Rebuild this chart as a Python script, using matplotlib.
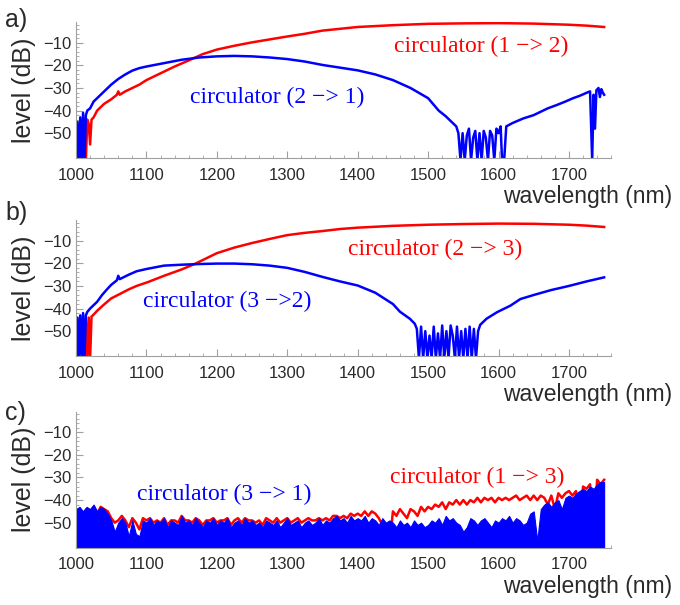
import matplotlib
matplotlib.use("Agg")
import matplotlib.pyplot as plt
from matplotlib.ticker import MultipleLocator

# ---- data (wavelength in nm, level in dB) ----
# panel a: circulator (1 -> 2) in red, (2 -> 1) in blue
wl_a_red = [1000, 1002, 1004, 1006, 1008, 1010, 1012, 1014, 1016, 1018, 1020, 1022,
            1025, 1030, 1035, 1040, 1050, 1058, 1060, 1062, 1070, 1080, 1090, 1100,
            1120, 1140, 1160, 1180, 1200, 1225, 1250, 1275, 1300, 1325, 1350, 1375,
            1400, 1450, 1500, 1550, 1600, 1650, 1700, 1725, 1750]
lvl_a_red = [-62, -46, -62, -62, -45, -62, -47, -62, -44, -46, -55, -44,
             -43, -40, -38.5, -37, -35, -33, -31.5, -33, -31.5, -30, -28.5, -26.5,
             -23.5, -20.5, -17.8, -15, -13, -11.3, -9.8, -8.5, -7.2, -6, -4.6, -3.8,
             -3, -2.2, -1.6, -1.4, -1.3, -1.5, -2, -2.4, -3]

wl_a_blue = [1000, 1002, 1004, 1006, 1008, 1010, 1012, 1014, 1016, 1020, 1025, 1030,
             1040, 1050, 1060, 1070, 1080, 1090, 1100, 1125, 1150, 1175, 1200, 1225,
             1250, 1275, 1300, 1325, 1350, 1375, 1400, 1425, 1450, 1475, 1500, 1515,
             1525, 1535, 1540, 1543, 1546, 1549, 1552, 1555, 1558, 1561, 1564, 1567,
             1570, 1573, 1576, 1579, 1582, 1585, 1588, 1591, 1594, 1597, 1600, 1603,
             1605, 1608, 1611, 1620, 1635, 1650, 1660, 1670, 1683, 1695, 1706, 1715,
             1726, 1730, 1733, 1735, 1737, 1739, 1742, 1744, 1746, 1748, 1750]
lvl_a_blue = [-62, -45, -62, -43, -62, -41, -62, -42, -40, -39, -36, -34.5,
              -31.5, -28.5, -26, -24, -22.3, -21.2, -20.5, -19, -17.5, -16.5, -16, -15.8,
              -16, -16.5, -17.2, -18.3, -19.8, -21, -22.2, -24, -26.5, -30, -34.5, -40,
              -42.5, -45.5, -47, -50, -62, -50, -62, -51, -48, -62, -52, -49,
              -62, -50, -62, -49, -52, -62, -49, -51, -62, -48, -50, -47,
              -62, -62, -47, -45.5, -43.5, -42, -40.5, -39, -37.5, -36, -34.5, -33.5,
              -32, -31.5, -62, -33, -48, -31, -30, -34, -30.5, -32, -33]

# panel b: circulator (2 -> 3) in red, (3 -> 2) in blue
wl_b_red = [1000, 1002, 1012, 1014, 1016, 1018, 1020, 1022, 1024, 1030, 1038, 1050,
            1062, 1075, 1086, 1102, 1125, 1150, 1169, 1200, 1225, 1250, 1275, 1300,
            1325, 1350, 1375, 1400, 1450, 1500, 1550, 1600, 1650, 1700, 1725, 1750]
lvl_b_red = [-45, -62, -62, -45, -62, -44, -62, -43.5, -43, -41, -38.7, -35.5,
             -33.6, -31.5, -30, -28.3, -25.5, -22.7, -20.2, -15.5, -13, -11, -9.2, -7.5,
             -6.5, -5.7, -4.8, -4.2, -3.4, -2.9, -2.6, -2.4, -2.5, -2.9, -3.3, -3.9]

wl_b_blue = [1000, 1002, 1004, 1006, 1008, 1010, 1012, 1014, 1016, 1020, 1025, 1030,
             1037, 1044, 1050, 1058, 1060, 1062, 1075, 1086, 1100, 1125, 1150, 1175,
             1200, 1225, 1250, 1275, 1300, 1325, 1350, 1375, 1400, 1425, 1450, 1460,
             1474, 1481, 1484, 1487, 1490, 1493, 1496, 1499, 1502, 1505, 1508, 1511,
             1514, 1517, 1520, 1523, 1526, 1529, 1532, 1535, 1538, 1541, 1544, 1547,
             1550, 1553, 1556, 1559, 1562, 1565, 1568, 1571, 1574, 1583, 1598, 1617,
             1631, 1650, 1675, 1700, 1725, 1750]
lvl_b_blue = [-62, -44, -62, -43, -62, -42, -62, -43, -41.5, -40, -38.5, -37,
              -34, -31.5, -29.5, -27.5, -25.5, -27, -25, -23.5, -22.5, -21, -20.6, -20.3,
              -20.1, -20.1, -20.4, -21, -22, -23.8, -26, -28, -29.8, -33, -38, -41.4,
              -44.5, -46.7, -49, -62, -48, -62, -50, -62, -52, -62, -48, -62,
              -51, -62, -47.5, -62, -50, -62, -47.5, -52, -62, -48, -62, -50,
              -62, -49, -62, -48, -62, -49, -62, -50, -47.2, -44.5, -41.6, -38.7,
              -35.8, -34, -31.8, -30, -28, -26.2]

# panel c: circulator (1 -> 3) in red, (3 -> 1) in blue, 5 nm steps
wl_c = list(range(1000, 1755, 5))
lvl_c_red = [-45, -44, -46, -44, -45, -43, -46, -43, -44, -45,
             -48, -50, -49, -47, -49, -52, -48, -50, -53, -48,
             -49, -48, -50, -49, -50, -48, -51, -49, -49, -50,
             -47, -49, -49, -50, -48, -49, -51, -49, -49, -48,
             -50, -49, -49, -48, -51, -49, -48, -50, -48, -49,
             -49, -50, -49, -51, -48, -49, -50, -48, -50, -49,
             -48, -50, -49, -48, -50, -49, -48, -49, -49, -48,
             -49, -48, -49, -47, -47, -48, -47, -48, -46, -47,
             -46, -47, -45, -47, -45, -46, -48, -51, -52, -61,
             -45, -47, -44, -46, -48, -44, -45, -47, -43, -45,
             -43, -44, -42, -43, -41, -44, -41, -42, -40, -42,
             -40, -42, -40, -41, -39, -41, -39, -40, -39, -41,
             -39, -40, -39, -40, -39, -38, -40, -39, -38, -40,
             -38, -40, -38, -39, -42, -38, -44, -37, -39, -37,
             -36, -38, -36, -61, -34, -35, -33, -61, -31, -33,
             -31]
lvl_c_blue = [-44, -43, -45, -43, -44, -42, -45, -43, -44, -46,
              -49, -54, -50, -48, -50, -56, -49, -55, -56, -49,
              -50, -48, -51, -49, -50, -48, -52, -49, -50, -51,
              -47, -50, -49, -51, -48, -50, -52, -49, -50, -48,
              -51, -49, -50, -48, -52, -50, -49, -51, -48, -50,
              -49, -51, -50, -52, -49, -50, -51, -49, -52, -50,
              -48, -51, -50, -49, -52, -50, -49, -51, -50, -48,
              -51, -49, -50, -48, -47, -49, -48, -50, -47, -49,
              -48, -49, -47, -50, -48, -49, -51, -48, -50, -49,
              -50, -52, -49, -51, -50, -52, -49, -51, -50, -52,
              -51, -49, -50, -48, -51, -47, -49, -48, -50, -51,
              -54, -52, -48, -49, -51, -49, -48, -50, -52, -49,
              -50, -48, -49, -47, -50, -48, -49, -51, -50, -46,
              -45, -58, -44, -42, -41, -43, -41, -40, -44, -39,
              -38, -39, -37, -36, -35, -36, -34, -35, -33, -32,
              -32]

panel_letters = ["a)", "b)", "c)"]
labels_red = ["circulator (1 \u2212> 2)", "circulator (2 \u2212> 3)", "circulator (1 \u2212> 3)"]
labels_blue = ["circulator (2 \u2212> 1)", "circulator (3 \u2212>2)", "circulator (3 \u2212> 1)"]

RED = "#ff0000"
BLUE = "#0000ff"
GREY = "#a0a0a0"
TXT = "#2a2a2a"

plt.rcParams["font.family"] = ["Liberation Sans", "DejaVu Sans"]

fig = plt.figure(figsize=(6.8, 6.05), dpi=100)
ax_a = fig.add_axes([0.1118, 0.7388, 0.787, 0.2248])
ax_b = fig.add_axes([0.1118, 0.4116, 0.787, 0.2248])
ax_c = fig.add_axes([0.1118, 0.0950, 0.787, 0.2248])
axes = [ax_a, ax_b, ax_c]

ax_a.plot(wl_a_red, lvl_a_red, color=RED, lw=1.8)
ax_a.plot(wl_a_blue, lvl_a_blue, color=BLUE, lw=1.8)
ax_b.plot(wl_b_red, lvl_b_red, color=RED, lw=1.8)
ax_b.plot(wl_b_blue, lvl_b_blue, color=BLUE, lw=1.8)
# red trace sits underneath the blue filled trace
ax_c.plot(wl_c, lvl_c_red, color=RED, lw=1.8, zorder=2)
ax_c.fill_between(wl_c, lvl_c_blue, -70, color=BLUE, lw=0.8, zorder=3)

# label positions (data coords) for the coloured captions
red_pos = [(1576, -11.8), (1510, -14), (1570, -30.2)]
blue_pos = [(1285, -34.4), (1215, -36.7), (1210, -37.3)]
letter_y = [1 - 19.5 / 605, 1 - 213 / 605, 1 - 413 / 605]

for i, ax in enumerate(axes):
    ax.set_xlim(1000, 1760)
    ax.set_ylim(-61, -0.8)
    ax.set_yticks([-10, -20, -30, -40, -50])
    ax.set_xticks(range(1000, 1800, 100))
    ax.xaxis.set_minor_locator(MultipleLocator(20))
    ax.yaxis.set_minor_locator(MultipleLocator(2))
    for s in ["top", "right"]:
        ax.spines[s].set_visible(False)
    for s in ["left", "bottom"]:
        ax.spines[s].set_color(GREY)
        ax.spines[s].set_linewidth(0.8)
        ax.spines[s].set_zorder(4)
    ax.tick_params(which="both", direction="in", color=GREY, labelsize=12,
                   labelcolor=TXT)
    ax.tick_params(which="major", length=5)
    ax.tick_params(which="minor", length=2.5)
    ax.tick_params(axis="x", pad=7)
    ax.set_ylabel("level (dB)", fontsize=18, color=TXT)
    ax.yaxis.set_label_coords(-0.075, 0.5)
    ax.set_xlabel("wavelength (nm)", fontsize=16.5, color=TXT, ha="right", va="center")
    ax.xaxis.set_label_coords(1.114, -0.285)
    ax.text(*red_pos[i], labels_red[i], color=RED, fontsize=17,
            family="Liberation Serif", ha="center", va="center", zorder=5)
    ax.text(*blue_pos[i], labels_blue[i], color=BLUE, fontsize=17,
            family="Liberation Serif", ha="center", va="center", zorder=5)
    fig.text(5 / 680, letter_y[i], panel_letters[i], fontsize=18, color=TXT,
             va="center", ha="left")

fig.savefig("out.png", dpi=100)
